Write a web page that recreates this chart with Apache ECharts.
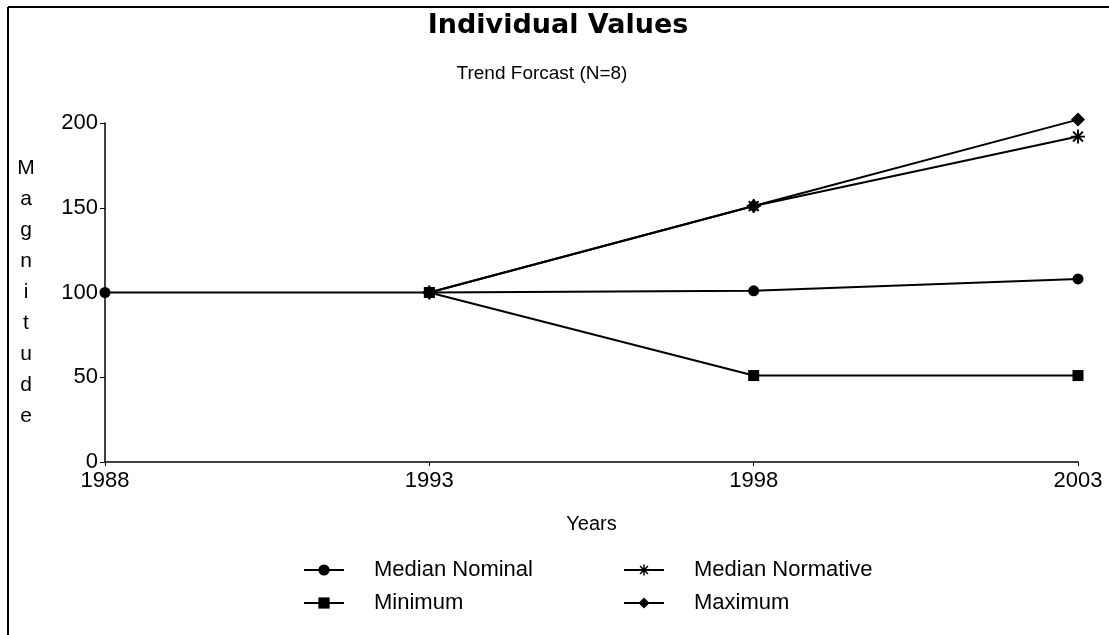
<!DOCTYPE html>
<html>
<head>
<meta charset="utf-8">
<title>Individual Values</title>
<script src="https://cdn.jsdelivr.net/npm/echarts@6/dist/echarts.min.js"></script>
<style>
  html, body { margin: 0; padding: 0; background: #fff; }
  #main { width: 1109px; height: 635px; }
</style>
</head>
<body>
<div id="main"></div>
<script>
// data
var years = ["1988", "1993", "1998", "2003"];
var medianNominal = [100, 100, 101, 108];
var medianNormative = [null, 100, 151, 192];
var minimum = [null, 100, 51, 51];
var maximum = [null, 100, 151, 202];
var yTicks = [0, 50, 100, 150, 200];

var font = "'Liberation Sans', Arial, sans-serif";
// asterisk made of four thin bars
var asterisk = "path://M0 10.4L24 10.4L24 13.6L0 13.6Z" +
  "M10.4 0L13.6 0L13.6 24L10.4 24Z" +
  "M4.64 2.38L21.62 19.36L19.36 21.62L2.38 4.64Z" +
  "M21.62 4.64L4.64 21.62L2.38 19.36L19.36 2.38Z";

var chart = echarts.init(document.getElementById("main"));

function legendAt(name, left, top) {
  return {
    data: [name],
    left: left,
    top: top,
    padding: 0,
    itemWidth: 40,
    itemHeight: 14,
    selectedMode: false,
    textStyle: {
      fontFamily: font,
      fontSize: 22,
      color: "#000",
      padding: [0, 0, 0, 25]
    }
  };
}

function lineSeries(name, data, symbol, size) {
  return {
    name: name,
    type: "line",
    data: data,
    symbol: symbol,
    symbolSize: size,
    showAllSymbol: true,
    clip: false,
    lineStyle: { color: "#000", width: 2 },
    itemStyle: { color: "#000", borderWidth: 0 }
  };
}

var options = {
  backgroundColor: "#fff",
  animation: false,
  title: [
    {
      text: "Individual Values",
      left: 558,
      top: 12,
      textAlign: "center",
      padding: 0,
      textStyle: { fontFamily: "'DejaVu Sans', sans-serif", fontWeight: "bold", fontSize: 27, color: "#000" }
    },
    {
      text: "Trend Forcast (N=8)",
      left: 542,
      top: 64,
      textAlign: "center",
      padding: 0,
      textStyle: { fontFamily: font, fontWeight: "normal", fontSize: 19, color: "#000" }
    }
  ],
  legend: [
    legendAt("Median Nominal", 303, 559),
    legendAt("Median Normative", 623, 559),
    legendAt("Minimum", 303, 592),
    legendAt("Maximum", 623, 592)
  ],
  grid: { left: 105, right: 31, top: 123, bottom: 173, containLabel: false },
  xAxis: {
    type: "category",
    data: years,
    boundaryGap: false,
    name: "Years",
    nameLocation: "middle",
    nameGap: 52,
    nameTextStyle: { fontFamily: font, fontSize: 20, color: "#000" },
    axisLine: { lineStyle: { color: "#000", width: 1.5 } },
    axisTick: { show: true, length: 4, lineStyle: { color: "#000" } },
    axisLabel: { fontFamily: font, fontSize: 22, color: "#000", margin: 8 },
    splitLine: { show: false }
  },
  yAxis: {
    type: "value",
    min: yTicks[0],
    max: yTicks[yTicks.length - 1],
    interval: 50,
    name: "M\na\ng\nn\ni\nt\nu\nd\ne",
    nameLocation: "middle",
    nameRotate: 0,
    nameGap: 79,
    nameTextStyle: { fontFamily: font, fontSize: 21, color: "#000", lineHeight: 31, align: "center" },
    axisLine: { show: true, lineStyle: { color: "#000", width: 1.5 } },
    axisTick: { show: true, length: 5, lineStyle: { color: "#000" } },
    axisLabel: { fontFamily: font, fontSize: 22, color: "#000", margin: 7 },
    splitLine: { show: false }
  },
  graphic: [
    { type: "line", shape: { x1: 8, y1: 7, x2: 1109, y2: 7 }, style: { stroke: "#000", lineWidth: 2 } },
    { type: "line", shape: { x1: 8, y1: 7, x2: 8, y2: 635 }, style: { stroke: "#000", lineWidth: 2 } }
  ],
  // drawing order: later series sit on top
  series: [
    lineSeries("Maximum", maximum, "diamond", 14),
    lineSeries("Median Nominal", medianNominal, "circle", 11),
    lineSeries("Median Normative", medianNormative, asterisk, 14),
    lineSeries("Minimum", minimum, "rect", 11)
  ]
};

chart.setOption(options);
</script>
</body>
</html>
